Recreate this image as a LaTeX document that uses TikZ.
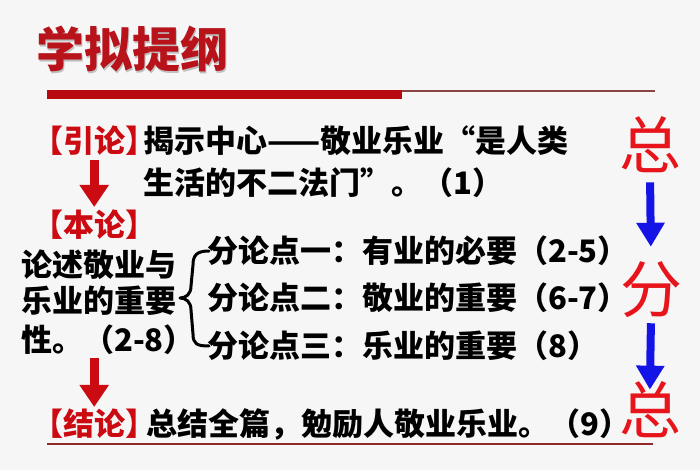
\documentclass[tikz,border=0pt]{standalone}
\usepackage{fontspec}
\usetikzlibrary{arrows.meta,calc}
\newfontfamily\cjk{Noto Sans CJK SC}
\definecolor{bgc}{HTML}{F6F6F6}
\definecolor{titlered}{HTML}{B8121A}
\definecolor{labred}{HTML}{CC0A12}
\definecolor{bigred}{HTML}{E8141C}
\definecolor{arrblue}{HTML}{1414E6}
\definecolor{linered}{HTML}{8E2A2A}
\tikzset{
  txt/.style={inner sep=0pt, anchor=west, text=black, font=\cjk\bfseries\fontsize{31}{31}\selectfont},
  lab/.style={txt, text=labred},
  big/.style={inner sep=0pt, text=bigred, font=\cjk\fontsize{62}{62}\selectfont},
  redarrow/.style={draw=labred, line width=9pt, -{Triangle[width=28pt,length=22pt]}},
  bluearrow/.style={draw=arrblue, line width=8pt, -{Triangle[width=27pt,length=24pt]}},
  bracepath/.style={draw=black, line width=3pt, line cap=round, line join=round}
}
\begin{document}
\begin{tikzpicture}[x=1pt,y=-1pt]
\useasboundingbox (0,0) rectangle (700,470);
\fill[bgc] (0,0) rectangle (700,470);
% title
\node[inner sep=0pt, anchor=west, text=black!25, font=\cjk\bfseries\fontsize{48}{48}\selectfont] at (37.5,50.5) {学拟提纲};
\node[inner sep=0pt, anchor=west, text=titlered, font=\cjk\bfseries\fontsize{48}{48}\selectfont] (title) at (36,49) {学拟提纲};
\fill[labred!90!black] (47,90) rectangle (402,99);
\draw[linered!70!gray, line width=1.2pt] (402,91) -- (655,91);
% rows
\node[lab] (yin) at (32,141) {【引论】};
\node[txt] (r1) at (143,141) {揭示中心——敬业乐业“是人类};
\node[txt] (r2) at (143,183) {生活的不二法门”。（1）};
\node[lab] (ben) at (32,225) {【本论】};
\node[txt] (l1) at (21,265) {论述敬业与};
\node[txt] (l2) at (21,301) {乐业的重要};
\node[txt] (l3) at (21,340) {性。（2-8）};
\node[txt] (p1) at (207,251) {分论点一：有业的必要（2-5）};
\node[txt] (p2) at (207,298) {分论点二：敬业的重要（6-7）};
\node[txt] (p3) at (207,346) {分论点三：乐业的重要（8）};
\node[lab] (jie) at (32,424) {【结论】};
\node[txt] (conc) at (146,424) {总结全篇，勉励人敬业乐业。（9）};
\draw[linered, line width=1.4pt] (47,444) -- (653,444);
% big
\node[big] (z1) at (650,145) {总};
\node[big] (fen) at (651,290) {分};
\node[big] (z2) at (650,410) {总};
% arrows
\draw[redarrow, shorten <=4pt, shorten >=3pt] (yin.south) -- (ben.north);
\draw[redarrow, shorten <=3pt, shorten >=2pt] (ben.south |- l3.south) -- (jie.north);
\draw[bluearrow, shorten <=9pt, shorten >=15pt] (z1.south) -- (fen.north);
\draw[bluearrow, shorten <=5pt, shorten >=-8pt] (fen.south) -- (z2.north);
% brace
\coordinate (bt) at ([xshift=2pt]p1.west);
\coordinate (bb) at ([xshift=2pt]p3.west);
\coordinate (bm) at (180,298);
\draw[bracepath] (bt) .. controls ++(-12,0) and ++(0,-10) .. ($(bt)+(-16,14)$)
  -- ($(bm)+(11,-12)$) .. controls ++(0,8) and ++(6,0) .. (bm)
  .. controls ++(6,0) and ++(0,-8) .. ($(bm)+(11,12)$)
  -- ($(bb)+(-16,-12)$) .. controls ++(0,10) and ++(-12,0) .. (bb);
\end{tikzpicture}
\end{document}
